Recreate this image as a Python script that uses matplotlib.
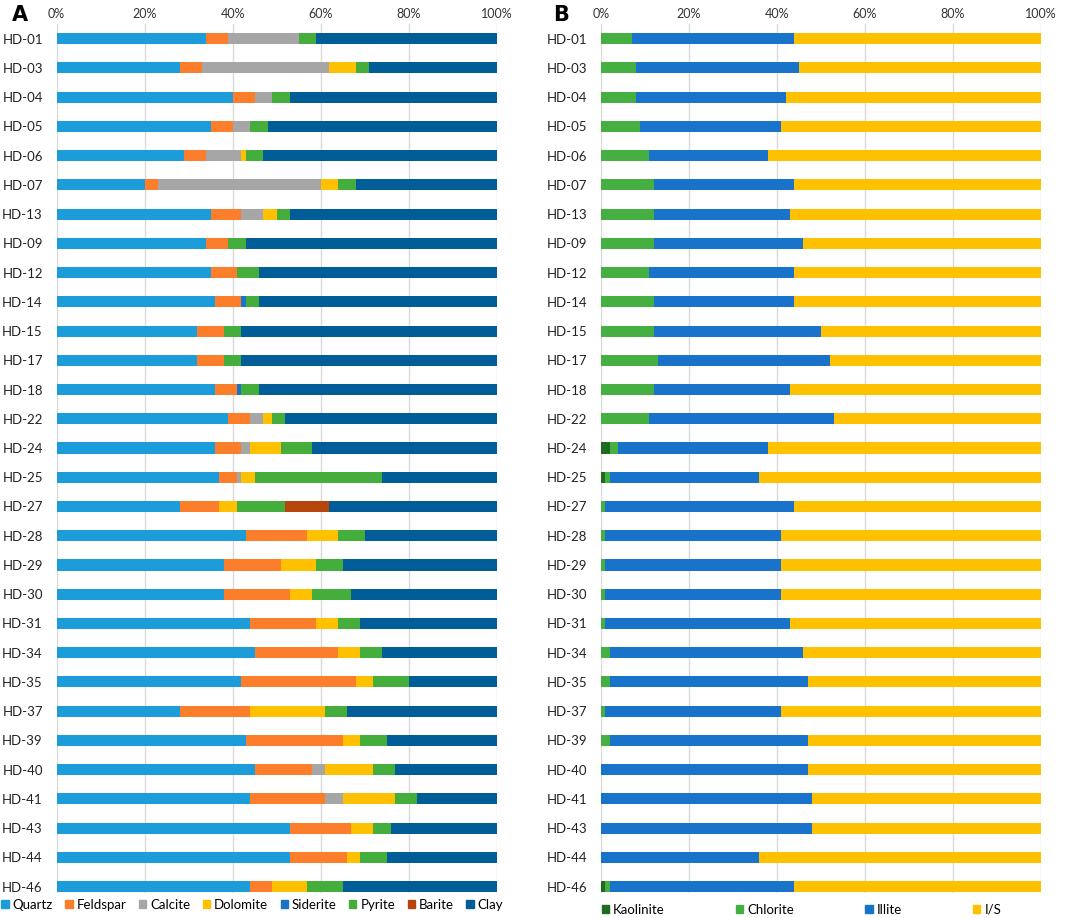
import numpy as np
import matplotlib
matplotlib.use("Agg")
import matplotlib.pyplot as plt
from matplotlib.patches import Patch

plt.rcParams["font.family"] = ["Lato", "DejaVu Sans"]

samples = ["HD-01", "HD-03", "HD-04", "HD-05", "HD-06", "HD-07", "HD-13", "HD-09",
           "HD-12", "HD-14", "HD-15", "HD-17", "HD-18", "HD-22", "HD-24", "HD-25",
           "HD-27", "HD-28", "HD-29", "HD-30", "HD-31", "HD-34", "HD-35", "HD-37",
           "HD-39", "HD-40", "HD-41", "HD-43", "HD-44", "HD-46"]

# panel A: whole-rock minerals (%)
quartz = [34, 28, 40, 35, 29, 20, 35, 34, 35, 36, 32, 32, 36, 39, 36, 37, 28, 43, 38, 38,
          44, 45, 42, 28, 43, 45, 44, 53, 53, 44]
feldspar = [5, 5, 5, 5, 5, 3, 7, 5, 6, 6, 6, 6, 5, 5, 6, 4, 9, 14, 13, 15,
            15, 19, 26, 16, 22, 13, 17, 14, 13, 5]
calcite = [16, 29, 4, 4, 8, 37, 5, 0, 0, 0, 0, 0, 0, 3, 2, 1, 0, 0, 0, 0,
           0, 0, 0, 0, 0, 3, 4, 0, 0, 0]
dolomite = [0, 6, 0, 0, 1, 4, 3, 0, 0, 0, 0, 0, 0, 2, 7, 3, 4, 7, 8, 5,
            5, 5, 4, 17, 4, 11, 12, 5, 3, 8]
siderite = [0, 0, 0, 0, 0, 0, 0, 0, 0, 1, 0, 0, 1, 0, 0, 0, 0, 0, 0, 0,
            0, 0, 0, 0, 0, 0, 0, 0, 0, 0]
pyrite = [4, 3, 4, 4, 4, 4, 3, 4, 5, 3, 4, 4, 4, 3, 7, 29, 11, 6, 6, 9,
          5, 5, 8, 5, 6, 5, 5, 4, 6, 8]
barite = [0, 0, 0, 0, 0, 0, 0, 0, 0, 0, 0, 0, 0, 0, 0, 0, 10, 0, 0, 0,
          0, 0, 0, 0, 0, 0, 0, 0, 0, 0]
clay = [41, 29, 47, 52, 53, 32, 47, 57, 54, 54, 58, 58, 54, 48, 42, 26, 38, 30, 35, 33,
        31, 26, 20, 34, 25, 23, 18, 24, 25, 35]

# panel B: clay minerals (%)
kaolinite = [0, 0, 0, 0, 0, 0, 0, 0, 0, 0, 0, 0, 0, 0, 2, 1, 0, 0, 0, 0,
             0, 0, 0, 0, 0, 0, 0, 0, 0, 1]
chlorite = [7, 8, 8, 9, 11, 12, 12, 12, 11, 12, 12, 13, 12, 11, 2, 1, 1, 1, 1, 1,
            1, 2, 2, 1, 2, 0, 0, 0, 0, 1]
illite = [37, 37, 34, 32, 27, 32, 31, 34, 33, 32, 38, 39, 31, 42, 34, 34, 43, 40, 40, 40,
          42, 44, 45, 40, 45, 47, 48, 48, 36, 42]
i_s = [56, 55, 58, 59, 62, 56, 57, 54, 56, 56, 50, 48, 57, 47, 62, 64, 56, 59, 59, 59,
       57, 54, 53, 59, 53, 53, 52, 52, 64, 56]

rock_names = ["Quartz", "Feldspar", "Calcite", "Dolomite", "Siderite", "Pyrite", "Barite", "Clay"]
rock_colors = ["#1C9DD9", "#FD7E2A", "#A6A6A6", "#FFC000", "#1A73CA", "#45AD3C", "#B5450B", "#005D97"]
clay_names = ["Kaolinite", "Chlorite", "Illite", "I/S"]
clay_colors = ["#1F6B20", "#45B041", "#1A73CA", "#FFC000"]


def draw_panel(ax, series, names, colors):
    y = np.arange(len(samples))
    left = np.zeros(len(samples))
    for vals, name, col in zip(series, names, colors):
        vals = np.array(vals, dtype=float)
        ax.barh(y, vals, left=left, height=0.38, color=col, label=name, zorder=3)
        left += vals
    ax.set_xlim(0, 100)
    ax.set_ylim(29.22, -0.5)
    ax.set_yticks(y)
    ax.set_yticklabels(samples, fontsize=9.5, color="#222222")
    ax.set_xticks(range(0, 101, 20))
    ax.set_xticklabels([f"{v}%" for v in range(0, 101, 20)], fontsize=9, color="#333333")
    ax.xaxis.tick_top()
    ax.tick_params(axis="both", length=0)
    ax.tick_params(axis="y", pad=10)
    ax.tick_params(axis="x", pad=3)
    ax.grid(axis="x", color="#D9D9D9", linewidth=1, zorder=0)
    for s in ax.spines.values():
        s.set_visible(False)


fig = plt.figure(figsize=(10.65, 9.18), dpi=100)
axA = fig.add_axes([0.0532, 0.0272, 0.4131, 0.9466])
axB = fig.add_axes([0.5641, 0.0272, 0.4131, 0.9466])

draw_panel(axA, [quartz, feldspar, calcite, dolomite, siderite, pyrite, barite, clay],
           rock_names, rock_colors)
draw_panel(axB, [kaolinite, chlorite, illite, i_s], clay_names, clay_colors)

hA = [Patch(color=c, label=n) for n, c in zip(rock_names, rock_colors)]
fig.legend(handles=hA, loc="center left", ncol=8, bbox_to_anchor=(0.0, 0.0145),
           frameon=False, fontsize=9.5, handlelength=0.55, handleheight=0.55,
           handletextpad=0.3, columnspacing=0.95, borderaxespad=0, borderpad=0.1)
hB = [Patch(color=c, label=n) for n, c in zip(clay_names, clay_colors)]
fig.legend(handles=hB, loc="center left", ncol=4, bbox_to_anchor=(0.564, 0.009),
           frameon=False, fontsize=9.5, handlelength=0.55, handleheight=0.55,
           handletextpad=0.3, columnspacing=5.4, borderaxespad=0, borderpad=0.1)

fig.text(0.011, 0.984, "A", fontsize=15, fontweight="bold", family="DejaVu Sans", va="center")
fig.text(0.519, 0.984, "B", fontsize=15, fontweight="bold", family="DejaVu Sans", va="center")

fig.savefig("out.png", dpi=100)
